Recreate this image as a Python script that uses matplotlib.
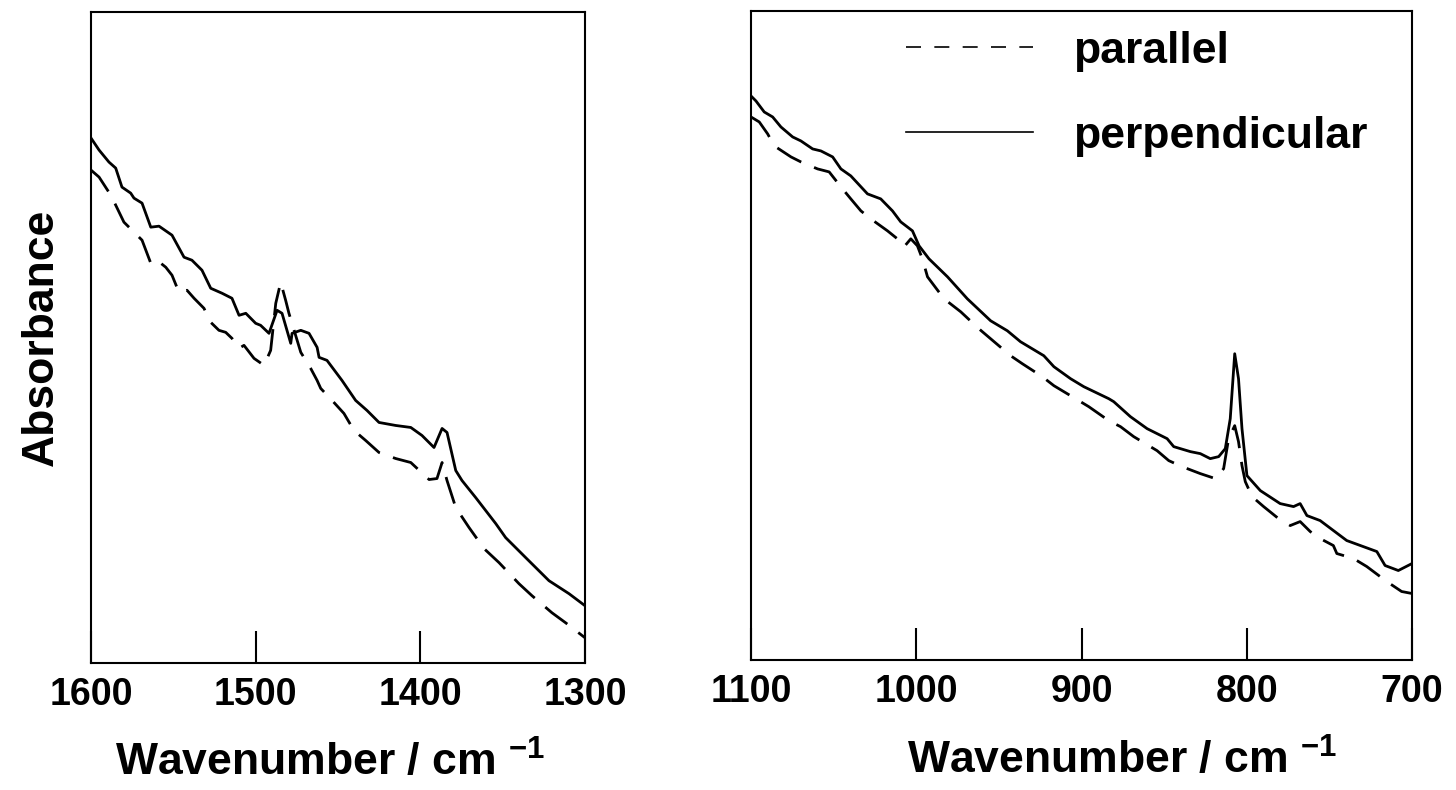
import matplotlib
matplotlib.use("Agg")
import matplotlib.pyplot as plt
from matplotlib import font_manager
from matplotlib.lines import Line2D

# IR absorbance (arbitrary units), two wavenumber windows
wn_l_perp = [1600, 1595.1, 1589.1, 1585.0, 1581.2, 1575.9, 1573.9, 1569.0, 1563.7, 1558.7,
             1550.8, 1543.5, 1538.7, 1532.6, 1527.3, 1520.4, 1514.4, 1510.1, 1506.0, 1500.0,
             1497.0, 1491.9, 1487.0, 1484.0, 1478.7, 1477.9, 1472.6, 1467.6, 1462.7, 1461.5,
             1456.7, 1447.6, 1439.3, 1432.4, 1425.1, 1415.0, 1405.8, 1399.0, 1391.7, 1386.8,
             1383.8, 1378.5, 1374.7, 1366.4, 1354.2, 1348.2, 1336.0, 1321.9, 1309.7, 1300.0]
a_l_perp = [0.524, 0.512, 0.500, 0.494, 0.475, 0.469, 0.464, 0.459, 0.435, 0.436,
            0.427, 0.405, 0.402, 0.392, 0.374, 0.369, 0.364, 0.347, 0.349, 0.339,
            0.337, 0.329, 0.352, 0.349, 0.319, 0.329, 0.332, 0.329, 0.315, 0.305,
            0.302, 0.282, 0.262, 0.252, 0.240, 0.237, 0.235, 0.227, 0.215, 0.234,
            0.230, 0.192, 0.182, 0.165, 0.139, 0.125, 0.105, 0.082, 0.069, 0.057]

wn_l_par = [1600, 1595.1, 1588.0, 1585.0, 1580.0, 1575.1, 1569.0, 1563.7, 1559.9, 1554.6,
            1550.8, 1546.6, 1541.7, 1537.4, 1531.4, 1527.3, 1522.3, 1518.2, 1514.4, 1510.1,
            1507.1, 1501.0, 1494.9, 1490.9, 1487.8, 1484.8, 1481.8, 1479.8, 1472.6, 1466.6,
            1462.7, 1460.5, 1453.6, 1446.4, 1440.3, 1433.2, 1425.1, 1415.0, 1405.8, 1394.7,
            1389.9, 1386.8, 1383.8, 1378.5, 1370.4, 1361.3, 1352.2, 1340.1, 1332.2, 1320.1,
            1311.8, 1300.0]
a_l_par = [0.492, 0.485, 0.467, 0.457, 0.440, 0.432, 0.422, 0.399, 0.402, 0.395,
           0.387, 0.370, 0.372, 0.364, 0.354, 0.340, 0.332, 0.330, 0.324, 0.314,
           0.317, 0.304, 0.297, 0.312, 0.359, 0.380, 0.362, 0.349, 0.310, 0.294,
           0.282, 0.274, 0.262, 0.249, 0.232, 0.222, 0.210, 0.204, 0.200, 0.183,
           0.184, 0.200, 0.182, 0.155, 0.135, 0.114, 0.100, 0.079, 0.067, 0.050,
           0.040, 0.025]

wn_r_perp = [1100, 1097.0, 1092.0, 1086.9, 1081.9, 1074.8, 1069.8, 1062.7, 1057.7, 1050.6,
             1045.6, 1039.6, 1029.5, 1021.5, 1014.4, 1009.4, 1002.3, 998.3, 992.3, 981.1,
             969.1, 955.0, 944.9, 936.9, 922.8, 916.7, 906.6, 898.6, 883.5, 880.5,
             870.4, 860.3, 848.2, 844.2, 834.1, 828.1, 822.1, 817.0, 813.0, 810.0,
             807.3, 805.0, 802.9, 799.9, 791.8, 779.8, 771.7, 767.7, 763.6, 755.6,
             739.5, 721.3, 716.3, 708.3, 700.0]
a_r_perp = [0.565, 0.560, 0.549, 0.544, 0.534, 0.524, 0.520, 0.512, 0.510, 0.504,
            0.492, 0.485, 0.467, 0.462, 0.450, 0.439, 0.430, 0.415, 0.402, 0.384,
            0.362, 0.340, 0.330, 0.319, 0.305, 0.294, 0.282, 0.274, 0.262, 0.259,
            0.244, 0.232, 0.222, 0.214, 0.209, 0.207, 0.202, 0.204, 0.212, 0.242,
            0.307, 0.282, 0.232, 0.185, 0.170, 0.157, 0.154, 0.157, 0.145, 0.140,
            0.120, 0.109, 0.095, 0.090, 0.097]

wn_r_par = [1100, 1095.0, 1089.9, 1085.9, 1075.8, 1069.8, 1059.7, 1052.7, 1045.6, 1039.6,
            1033.5, 1027.5, 1017.4, 1011.4, 1007.4, 1003.3, 999.3, 996.3, 993.2, 983.2,
            973.1, 962.1, 955.0, 942.9, 935.8, 923.7, 916.7, 901.6, 895.6, 883.5,
            876.4, 868.4, 854.3, 847.2, 839.2, 828.1, 819.0, 814.0, 811.0, 807.3,
            805.0, 802.9, 800.9, 796.8, 789.8, 780.8, 773.7, 767.7, 761.6, 755.6,
            747.6, 745.5, 735.4, 727.4, 715.3, 706.3, 700.0]
a_r_par = [0.544, 0.539, 0.527, 0.515, 0.504, 0.499, 0.492, 0.489, 0.474, 0.462,
           0.450, 0.442, 0.430, 0.422, 0.414, 0.422, 0.415, 0.402, 0.384, 0.362,
           0.349, 0.332, 0.322, 0.305, 0.297, 0.284, 0.275, 0.260, 0.254, 0.240,
           0.234, 0.224, 0.210, 0.200, 0.194, 0.187, 0.182, 0.192, 0.222, 0.235,
           0.219, 0.195, 0.179, 0.164, 0.154, 0.142, 0.135, 0.139, 0.129, 0.122,
           0.115, 0.107, 0.102, 0.094, 0.079, 0.069, 0.067]

ticks_l = [1600, 1500, 1400, 1300]
ticks_r = [1100, 1000, 900, 800, 700]
labels = ["parallel", "perpendicular"]

# fonts
names = {f.name for f in font_manager.fontManager.ttflist}
plt.rcParams['font.family'] = ['Liberation Sans', 'DejaVu Sans']
plt.rcParams['font.weight'] = 'bold'
plt.rcParams['mathtext.fontset'] = 'custom'
plt.rcParams['mathtext.bf'] = 'Liberation Sans:bold'
plt.rcParams['mathtext.rm'] = 'Liberation Sans:bold'
plt.rcParams['mathtext.default'] = 'bf'
if 'Liberation Sans Narrow' in names:
    tick_font = ['Liberation Sans Narrow', 'Liberation Sans']
    tick_size = 33
else:
    tick_font = ['Liberation Sans']
    tick_size = 27

LW = 2.0
DASH = (0, (10, 5))

fig = plt.figure(figsize=(14.56, 7.9), dpi=100)
ax1 = fig.add_axes([0.0625, 0.161, 0.3393, 0.824])
ax2 = fig.add_axes([0.5158, 0.164, 0.454, 0.822])

ax1.plot(wn_l_par, a_l_par, color='k', lw=LW, ls=DASH)
ax1.plot(wn_l_perp, a_l_perp, color='k', lw=LW)
ax2.plot(wn_r_par, a_r_par, color='k', lw=LW, ls=DASH)
ax2.plot(wn_r_perp, a_r_perp, color='k', lw=LW)

for ax, (lo, hi), tks, lx in [(ax1, (1600, 1300), ticks_l, 0.484),
                              (ax2, (1100, 700), ticks_r, 0.561)]:
    ax.set_xlim(lo, hi)
    ax.set_ylim(0, 0.65)
    ax.set_xticks(tks)
    ax.set_xticklabels([str(t) for t in tks], family=tick_font, size=tick_size, weight='bold')
    ax.set_yticks([])
    ax.tick_params(axis='x', direction='in', length=23, width=1.5, pad=10)
    for s in ax.spines.values():
        s.set_linewidth(1.5)
    ax.set_xlabel(r'Wavenumber / cm $^{-1}$', fontsize=32, weight='bold', labelpad=20)
    ax.xaxis.label.set_x(lx)

ax1.set_ylabel('Absorbance', fontsize=32, weight='bold', labelpad=21)

handles = [Line2D([], [], color='k', lw=1.2, ls=(0, (9, 8))),
           Line2D([], [], color='k', lw=1.2)]
ax2.legend(handles, labels, loc='upper left', bbox_to_anchor=(0.235, 0.97),
           frameon=False, handlelength=2.85, handletextpad=0.9,
           labelspacing=1.0, borderpad=0, borderaxespad=0,
           prop={'weight': 'bold', 'size': 32})

fig.savefig('out.png', dpi=100)
